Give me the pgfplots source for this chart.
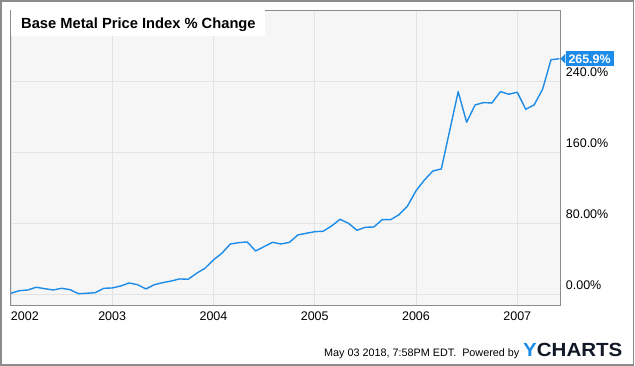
\documentclass[border=0pt]{standalone}
\usepackage{pgfplots}
\pgfplotsset{compat=1.18}
\usepackage{fontspec}
\setmainfont{Liberation Sans}
\definecolor{linecol}{HTML}{1C8CE8}
\definecolor{bgcol}{HTML}{F6F6F6}
\definecolor{gridcol}{HTML}{E3E3E3}
\definecolor{framecol}{HTML}{8C8C8C}
\definecolor{logodark}{HTML}{111827}
\pgfplotstableread{
m v
0 0.8
1 3.7
2 4.5
3 7.6
4 6.0
5 4.5
6 6.4
7 4.9
8 0.3
9 0.8
10 1.5
11 6.4
12 6.8
13 9.0
14 12.4
15 10.5
16 5.7
17 10.5
18 12.8
19 14.7
20 17.0
21 16.6
22 23.4
23 29.1
24 38.6
25 46.0
26 56.5
27 58.0
28 58.8
29 48.6
30 53.5
31 58.4
32 56.5
33 58.4
34 66.7
35 68.6
36 70.4
37 70.9
38 76.9
39 84.4
40 79.9
41 72.0
42 75.4
43 75.7
44 84.0
45 84.0
46 89.7
47 99.5
48 116.6
49 128.9
50 139.0
51 141.3
52 185.0
53 228.7
54 194.1
55 213.7
56 216.3
57 215.9
58 228.7
59 225.8
60 228.0
61 208.8
62 213.7
63 231.4
64 264.8
65 265.9
}\datatable
\begin{document}
\begin{tikzpicture}
\useasboundingbox (0,0) rectangle (635pt,366pt);
\begin{axis}[
  at={(10.5pt,60.7pt)}, anchor=south west,
  scale only axis, width=549.8pt, height=295.3pt,
  xmin=-0.05, xmax=65.1, ymin=-12.8, ymax=321,
  axis background/.style={fill=bgcol},
  axis line style={draw=framecol, line width=0.8pt},
  grid=major, major grid style={draw=gridcol, line width=0.8pt},
  major tick length=0pt,
  xtick={0,12,24,36,48,60},
  xticklabels={\makebox[0pt][l]{2002},2003,2004,2005,2006,2007},
  xticklabel style={font=\fontsize{12.5}{14}\selectfont, anchor=north, inner sep=0pt, yshift=-6.4pt},
  ytick={0,80,160,240},
  yticklabels={0.00\%,80.00\%,160.0\%,240.0\%},
  yticklabel pos=right,
  yticklabel style={font=\fontsize{12.5}{14}\selectfont, anchor=base west, inner sep=0pt, xshift=5.4pt, yshift=4.7pt},
  clip=false,
]
\addplot[color=linecol, line width=1.4pt, line join=round] table[x=m,y=v]{\datatable};
\node[fill=linecol, text=white, font=\bfseries\fontsize{12.4}{14}\selectfont, inner xsep=3pt, inner ysep=3pt, anchor=west, xshift=5pt] (cl) at (axis cs:65.1,265.9) {265.9\%};
\fill[linecol] (axis cs:65.1,265.9) -- ([yshift=5pt]cl.west) -- ([yshift=-5pt]cl.west) -- cycle;
\end{axis}
\fill[white] (10.9pt,330pt) rectangle (265pt,355.6pt);
\node[anchor=base west, inner sep=0pt, font=\bfseries\fontsize{14.7}{17}\selectfont] at (21pt,337.7pt) {Base Metal Price Index \% Change};
\node[anchor=base west, inner sep=0pt, font=\fontsize{10.8}{13}\selectfont] at (324pt,9.3pt) {May 03 2018, 7:58PM EDT.\ \ Powered by};
\node[anchor=base west, inner sep=0pt, font=\bfseries\fontsize{19}{22}\selectfont] at (523pt,9.3pt) {\scalebox{1.08}[1]{\textcolor{linecol}{Y}\textcolor{logodark}{CHARTS}}};
\draw[framecol, line width=1.3pt] (1pt,1pt) rectangle (633.5pt,365pt);
\end{tikzpicture}
\end{document}
